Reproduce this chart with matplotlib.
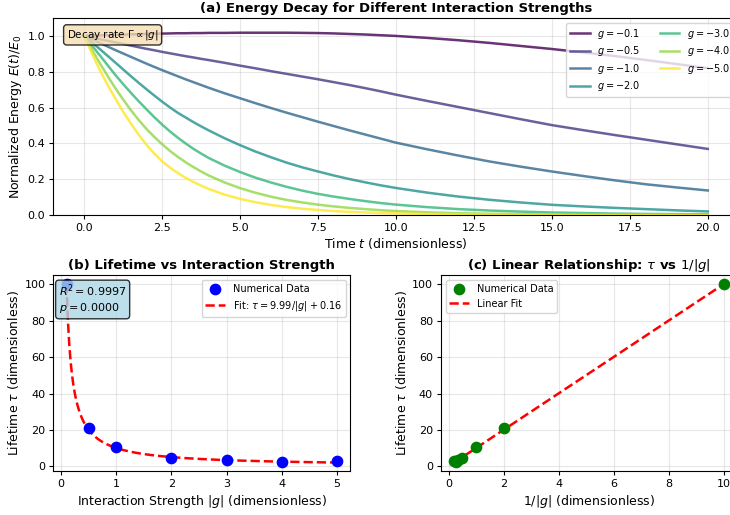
import numpy as np
import matplotlib
matplotlib.use("Agg")
import matplotlib.pyplot as plt

# ---- panel (a): energy decay curves ----
t_vals = [0, 0.25, 0.5, 0.75, 1, 1.25, 1.5, 1.75, 2, 2.25, 2.5, 2.75, 3, 3.25, 3.5, 3.75, 4,
          4.5, 5, 5.5, 6, 6.5, 7, 7.5, 8, 8.5, 9, 9.5, 10,
          11, 12, 13, 14, 15, 16, 17, 18, 19, 20]
g_labels = [-0.1, -0.5, -1.0, -2.0, -3.0, -4.0, -5.0]
E_g01 = [1.000, 1.002, 1.003, 1.005, 1.006, 1.007, 1.009, 1.010, 1.011, 1.012, 1.013, 1.014,
         1.015, 1.015, 1.016, 1.016, 1.017,
         1.017, 1.018, 1.018, 1.018, 1.018, 1.017, 1.016, 1.014, 1.011, 1.008, 1.004, 1.000,
         0.989, 0.976, 0.961, 0.944, 0.927, 0.908, 0.888, 0.866, 0.843, 0.820]
E_g05 = [1.000, 0.991, 0.982, 0.973, 0.964, 0.955, 0.946, 0.937, 0.928, 0.920, 0.911, 0.903,
         0.895, 0.887, 0.880, 0.872, 0.865,
         0.850, 0.834, 0.819, 0.803, 0.788, 0.773, 0.758, 0.742, 0.726, 0.709, 0.691, 0.672,
         0.637, 0.603, 0.569, 0.535, 0.502, 0.474, 0.447, 0.421, 0.395, 0.369]
E_g1 = [1.000, 0.981, 0.961, 0.941, 0.921, 0.902, 0.883, 0.864, 0.845, 0.827, 0.809, 0.792,
        0.775, 0.758, 0.742, 0.726, 0.710,
        0.680, 0.652, 0.624, 0.597, 0.571, 0.546, 0.521, 0.497, 0.473, 0.450, 0.427, 0.404,
        0.367, 0.332, 0.299, 0.270, 0.243, 0.218, 0.194, 0.172, 0.154, 0.137]
E_g2 = [1.000, 0.964, 0.927, 0.889, 0.851, 0.813, 0.775, 0.738, 0.702, 0.667, 0.633, 0.601,
        0.571, 0.545, 0.519, 0.495, 0.472,
        0.429, 0.390, 0.354, 0.322, 0.292, 0.266, 0.243, 0.221, 0.201, 0.183, 0.166, 0.151,
        0.125, 0.103, 0.085, 0.070, 0.057, 0.048, 0.040, 0.033, 0.026, 0.020]
E_g3 = [1.000, 0.946, 0.892, 0.837, 0.782, 0.731, 0.682, 0.635, 0.590, 0.546, 0.505, 0.467,
        0.432, 0.400, 0.370, 0.343, 0.318,
        0.276, 0.240, 0.208, 0.181, 0.157, 0.136, 0.118, 0.103, 0.090, 0.078, 0.067, 0.058,
        0.044, 0.033, 0.025, 0.019, 0.014, 0.011, 0.008, 0.006, 0.005, 0.004]
E_g4 = [1.000, 0.922, 0.848, 0.777, 0.708, 0.645, 0.585, 0.530, 0.480, 0.436, 0.395, 0.358,
        0.325, 0.295, 0.268, 0.243, 0.220,
        0.182, 0.150, 0.124, 0.102, 0.084, 0.070, 0.058, 0.048, 0.040, 0.033, 0.027, 0.022,
        0.015, 0.010, 0.007, 0.005, 0.003, 0.002, 0.002, 0.001, 0.001, 0.001]
E_g5 = [1.000, 0.902, 0.810, 0.727, 0.650, 0.577, 0.510, 0.448, 0.392, 0.343, 0.300, 0.265,
        0.235, 0.208, 0.185, 0.164, 0.145,
        0.114, 0.090, 0.071, 0.056, 0.044, 0.035, 0.028, 0.022, 0.018, 0.014, 0.011, 0.009,
        0.006, 0.004, 0.002, 0.001, 0.001, 0.000, 0.000, 0.000, 0.000, 0.000]
energy_curves = [E_g01, E_g05, E_g1, E_g2, E_g3, E_g4, E_g5]

# ---- panels (b) and (c): lifetimes ----
abs_g = [0.1, 0.5, 1.0, 2.0, 3.0, 4.0, 5.0]
tau = [100.0, 20.9, 10.6, 4.9, 3.8, 2.5, 3.0]
fit_a, fit_b = 9.99, 0.16
r_squared = 0.9997
p_value = 0.0

plt.rcParams.update({
    "xtick.major.size": 3, "ytick.major.size": 3,
    "xtick.major.pad": 2.5, "ytick.major.pad": 2.5,
    "axes.labelpad": 2.5, "axes.titlepad": 4,
})

fig = plt.figure(figsize=(7.3, 5.15), dpi=100)
# axes run past the right edge, as in the (cropped) reference
ax_a = fig.add_axes([0.0726, 0.5825, 0.9397, 0.3825])
ax_b = fig.add_axes([0.0726, 0.0845, 0.4075, 0.3815])
ax_c = fig.add_axes([0.6037, 0.0845, 0.4066, 0.3815])

TICK = 8
LAB = 9
TIT = 9.5

colors = plt.cm.viridis(np.linspace(0, 1, len(g_labels)))
for g, E, c in zip(g_labels, energy_curves, colors):
    ax_a.plot(t_vals, E, color=c, lw=1.8, alpha=0.8, label=f"$g = {g}$")
ax_a.set_xlim(-1, 21)
ax_a.set_ylim(0, 1.1)
ax_a.set_xlabel("Time $t$ (dimensionless)", fontsize=LAB)
ax_a.set_ylabel("Normalized Energy $E(t)/E_0$", fontsize=LAB)
ax_a.set_title("(a) Energy Decay for Different Interaction Strengths",
               fontsize=TIT, fontweight="bold")
ax_a.legend(ncol=2, fontsize=7, loc="upper right", labelspacing=0.35)
ax_a.text(0.02, 0.95, r"Decay rate $\Gamma \propto |g|$", transform=ax_a.transAxes,
          fontsize=7.5, va="top",
          bbox=dict(boxstyle="round", facecolor="wheat", alpha=0.8))
ax_a.grid(True, alpha=0.3)
ax_a.tick_params(labelsize=TICK)

# (b)
g_fit = np.linspace(min(abs_g), max(abs_g), 200)
ax_b.scatter(abs_g, tau, s=55, color="blue", zorder=3, label="Numerical Data")
ax_b.plot(g_fit, fit_a / g_fit + fit_b, "r--", lw=1.8,
          label=rf"Fit: $\tau = {fit_a:.2f}/|g| + {fit_b:.2f}$")
ax_b.set_xlabel("Interaction Strength $|g|$ (dimensionless)", fontsize=LAB)
ax_b.set_ylabel(r"Lifetime $\tau$ (dimensionless)", fontsize=LAB)
ax_b.set_title("(b) Lifetime vs Interaction Strength", fontsize=TIT, fontweight="bold")
ax_b.legend(fontsize=7, loc="upper right")
ax_b.text(0.02, 0.96, f"$R^2 = {r_squared:.4f}$\n$p = {p_value:.4f}$",
          transform=ax_b.transAxes, fontsize=8, va="top",
          bbox=dict(boxstyle="round", facecolor="lightblue", alpha=0.8))
ax_b.grid(True, alpha=0.3)
ax_b.tick_params(labelsize=TICK)

# (c)
inv_g = [1.0 / g for g in abs_g]
x_line = np.linspace(min(inv_g), max(inv_g), 100)
ax_c.scatter(inv_g, tau, s=55, color="green", zorder=3, label="Numerical Data")
ax_c.plot(x_line, fit_a * x_line + fit_b, "r--", lw=1.8, label="Linear Fit")
ax_c.set_xlabel("$1/|g|$ (dimensionless)", fontsize=LAB)
ax_c.set_ylabel(r"Lifetime $\tau$ (dimensionless)", fontsize=LAB)
ax_c.set_title(r"(c) Linear Relationship: $\tau$ vs $1/|g|$", fontsize=TIT, fontweight="bold")
ax_c.legend(fontsize=7, loc="upper left")
ax_c.grid(True, alpha=0.3)
ax_c.tick_params(labelsize=TICK)

fig.savefig("out.png", dpi=100)
